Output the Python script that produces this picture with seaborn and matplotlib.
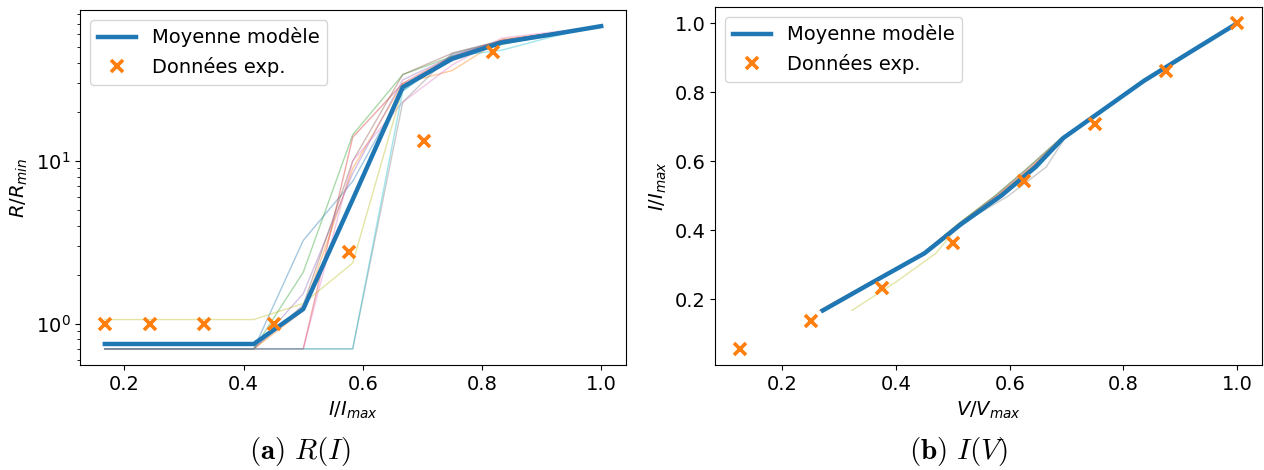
import numpy as np
import pandas as pd
import seaborn as sns
import matplotlib.pyplot as plt

# current levels I/Imax used by the model runs (k/12, k = 2..12)
I_LEVELS = [0.167, 0.25, 0.333, 0.417, 0.5, 0.583, 0.667, 0.75, 0.833, 0.917, 1.0]

# (a) R/Rmin for each model run
R_RUN0 = [0.70, 0.70, 0.70, 0.70, 3.25, 7.5, 27.0, 45.0, 55.0, 61.0, 67.5]
R_RUN1 = [0.70, 0.70, 0.70, 0.70, 1.20, 9.0, 30.0, 36.0, 56.0, 61.0, 67.5]
R_RUN2 = [0.70, 0.70, 0.70, 0.70, 2.07, 14.5, 34.0, 44.0, 52.0, 60.0, 67.5]
R_RUN3 = [0.70, 0.70, 0.70, 0.70, 0.70, 14.0, 30.0, 44.0, 55.0, 61.0, 67.5]
R_RUN4 = [0.70, 0.70, 0.70, 0.70, 1.53, 8.4, 31.5, 44.0, 55.0, 61.0, 67.5]
R_RUN5 = [0.70, 0.70, 0.70, 0.70, 1.30, 10.0, 34.0, 46.0, 55.0, 61.0, 67.5]
R_RUN6 = [0.70, 0.70, 0.70, 0.70, 0.70, 10.0, 23.0, 39.0, 57.0, 62.0, 67.5]
R_RUN7 = [0.70, 0.70, 0.70, 0.70, 0.70, 0.70, 23.0, 46.0, 55.0, 61.0, 67.5]
R_RUN8 = [1.06, 1.06, 1.06, 1.06, 1.33, 2.36, 28.0, 42.0, 54.0, 61.0, 67.5]
R_RUN9 = [0.70, 0.70, 0.70, 0.70, 0.70, 0.70, 27.0, 44.0, 48.0, 58.0, 67.5]
R_MEAN = [0.75, 0.75, 0.75, 0.75, 1.23, 5.8, 28.5, 42.5, 53.5, 60.0, 67.5]

R_EXP_I = [0.167, 0.242, 0.333, 0.451, 0.576, 0.702, 0.819]
R_EXP = [1.0, 1.0, 1.0, 1.0, 2.75, 13.3, 46.6]

# (b) V/Vmax for each model run, at the same current levels
V_RUN0 = [0.271, 0.360, 0.450, 0.514, 0.585, 0.645, 0.694, 0.765, 0.836, 0.918, 1.0]
V_RUN1 = [0.266, 0.356, 0.447, 0.512, 0.580, 0.640, 0.692, 0.765, 0.836, 0.918, 1.0]
V_RUN2 = [0.268, 0.357, 0.448, 0.508, 0.574, 0.633, 0.690, 0.765, 0.836, 0.918, 1.0]
V_RUN3 = [0.266, 0.356, 0.447, 0.510, 0.578, 0.638, 0.692, 0.765, 0.836, 0.918, 1.0]
V_RUN4 = [0.271, 0.360, 0.450, 0.514, 0.585, 0.645, 0.694, 0.765, 0.836, 0.918, 1.0]
V_RUN5 = [0.268, 0.357, 0.448, 0.509, 0.575, 0.634, 0.690, 0.765, 0.836, 0.918, 1.0]
V_RUN6 = [0.271, 0.360, 0.450, 0.514, 0.585, 0.645, 0.694, 0.765, 0.836, 0.918, 1.0]
V_RUN7 = [0.271, 0.360, 0.450, 0.514, 0.598, 0.664, 0.697, 0.765, 0.836, 0.918, 1.0]
V_RUN8 = [0.322, 0.400, 0.470, 0.512, 0.580, 0.640, 0.692, 0.765, 0.836, 0.918, 1.0]
V_RUN9 = [0.271, 0.360, 0.450, 0.514, 0.588, 0.650, 0.694, 0.765, 0.836, 0.918, 1.0]
V_MEAN = [0.271, 0.360, 0.450, 0.514, 0.585, 0.645, 0.694, 0.765, 0.836, 0.918, 1.0]

V_EXP = [0.125, 0.25, 0.375, 0.5, 0.625, 0.75, 0.875, 1.0]
I_EXP = [0.056, 0.136, 0.232, 0.362, 0.542, 0.707, 0.863, 1.0]

R_RUNS = [R_RUN0, R_RUN1, R_RUN2, R_RUN3, R_RUN4,
          R_RUN5, R_RUN6, R_RUN7, R_RUN8, R_RUN9]
V_RUNS = [V_RUN0, V_RUN1, V_RUN2, V_RUN3, V_RUN4,
          V_RUN5, V_RUN6, V_RUN7, V_RUN8, V_RUN9]

FONT = 14
plt.rcParams['font.size'] = FONT

rows = []
for run, (r, v) in enumerate(zip(R_RUNS, V_RUNS)):
    for i, rr, vv in zip(I_LEVELS, r, v):
        rows.append({'run': run, 'I': i, 'R': rr, 'V': vv})
runs_df = pd.DataFrame(rows)
palette = sns.color_palette('tab10', 10)

fig = plt.figure(figsize=(12.64, 4.70), dpi=100)
ax1 = fig.add_axes([80 / 1264, 105 / 470, 546 / 1264, 355 / 470])
ax2 = fig.add_axes([715 / 1264, 105 / 470, 547 / 1264, 358 / 470])

exp_style = dict(color='C1', marker='x', linestyle='', markersize=9,
                 mew=2.6, mec='C1', mfc='C1')

# (a) R(I)
sns.lineplot(data=runs_df, x='I', y='R', hue='run', palette=palette,
             lw=1.0, alpha=0.4, legend=False, sort=False, ax=ax1)
sns.lineplot(x=I_LEVELS, y=R_MEAN, color='C0', lw=3.2,
             label='Moyenne modèle', sort=False, ax=ax1)
sns.lineplot(x=R_EXP_I, y=R_EXP, label='Données exp.', ax=ax1, **exp_style)
ax1.set_yscale('log')
ax1.set_xlabel(r'$I/I_{max}$', fontsize=FONT)
ax1.set_ylabel(r'$R/R_{min}$', fontsize=FONT)
ax1.legend(loc='upper left', fontsize=FONT)

# (b) I(V)
sns.lineplot(data=runs_df, x='V', y='I', hue='run', palette=palette,
             lw=1.0, alpha=0.4, legend=False, sort=False, ax=ax2)
sns.lineplot(x=V_MEAN, y=I_LEVELS, color='C0', lw=3.2,
             label='Moyenne modèle', sort=False, ax=ax2)
sns.lineplot(x=V_EXP, y=I_EXP, label='Données exp.', ax=ax2, **exp_style)
ax2.set_xticks([0.2, 0.4, 0.6, 0.8, 1.0])
ax2.set_yticks([0.2, 0.4, 0.6, 0.8, 1.0])
ax2.set_xlabel(r'$V/V_{max}$', fontsize=FONT)
ax2.set_ylabel(r'$I/I_{max}$', fontsize=FONT)
ax2.legend(loc='upper left', fontsize=FONT)

for ax in (ax1, ax2):
    ax.tick_params(labelsize=FONT)

# subfigure captions
fig.text(300 / 1264, 1 - 452 / 470, r'$\mathbf{(a)}\ R(I)$',
         ha='center', va='center', fontsize=21, math_fontfamily='cm')
fig.text(958 / 1264, 1 - 452 / 470, r'$\mathbf{(b)}\ I(V)$',
         ha='center', va='center', fontsize=21, math_fontfamily='cm')

fig.savefig('out.png', dpi=100)
